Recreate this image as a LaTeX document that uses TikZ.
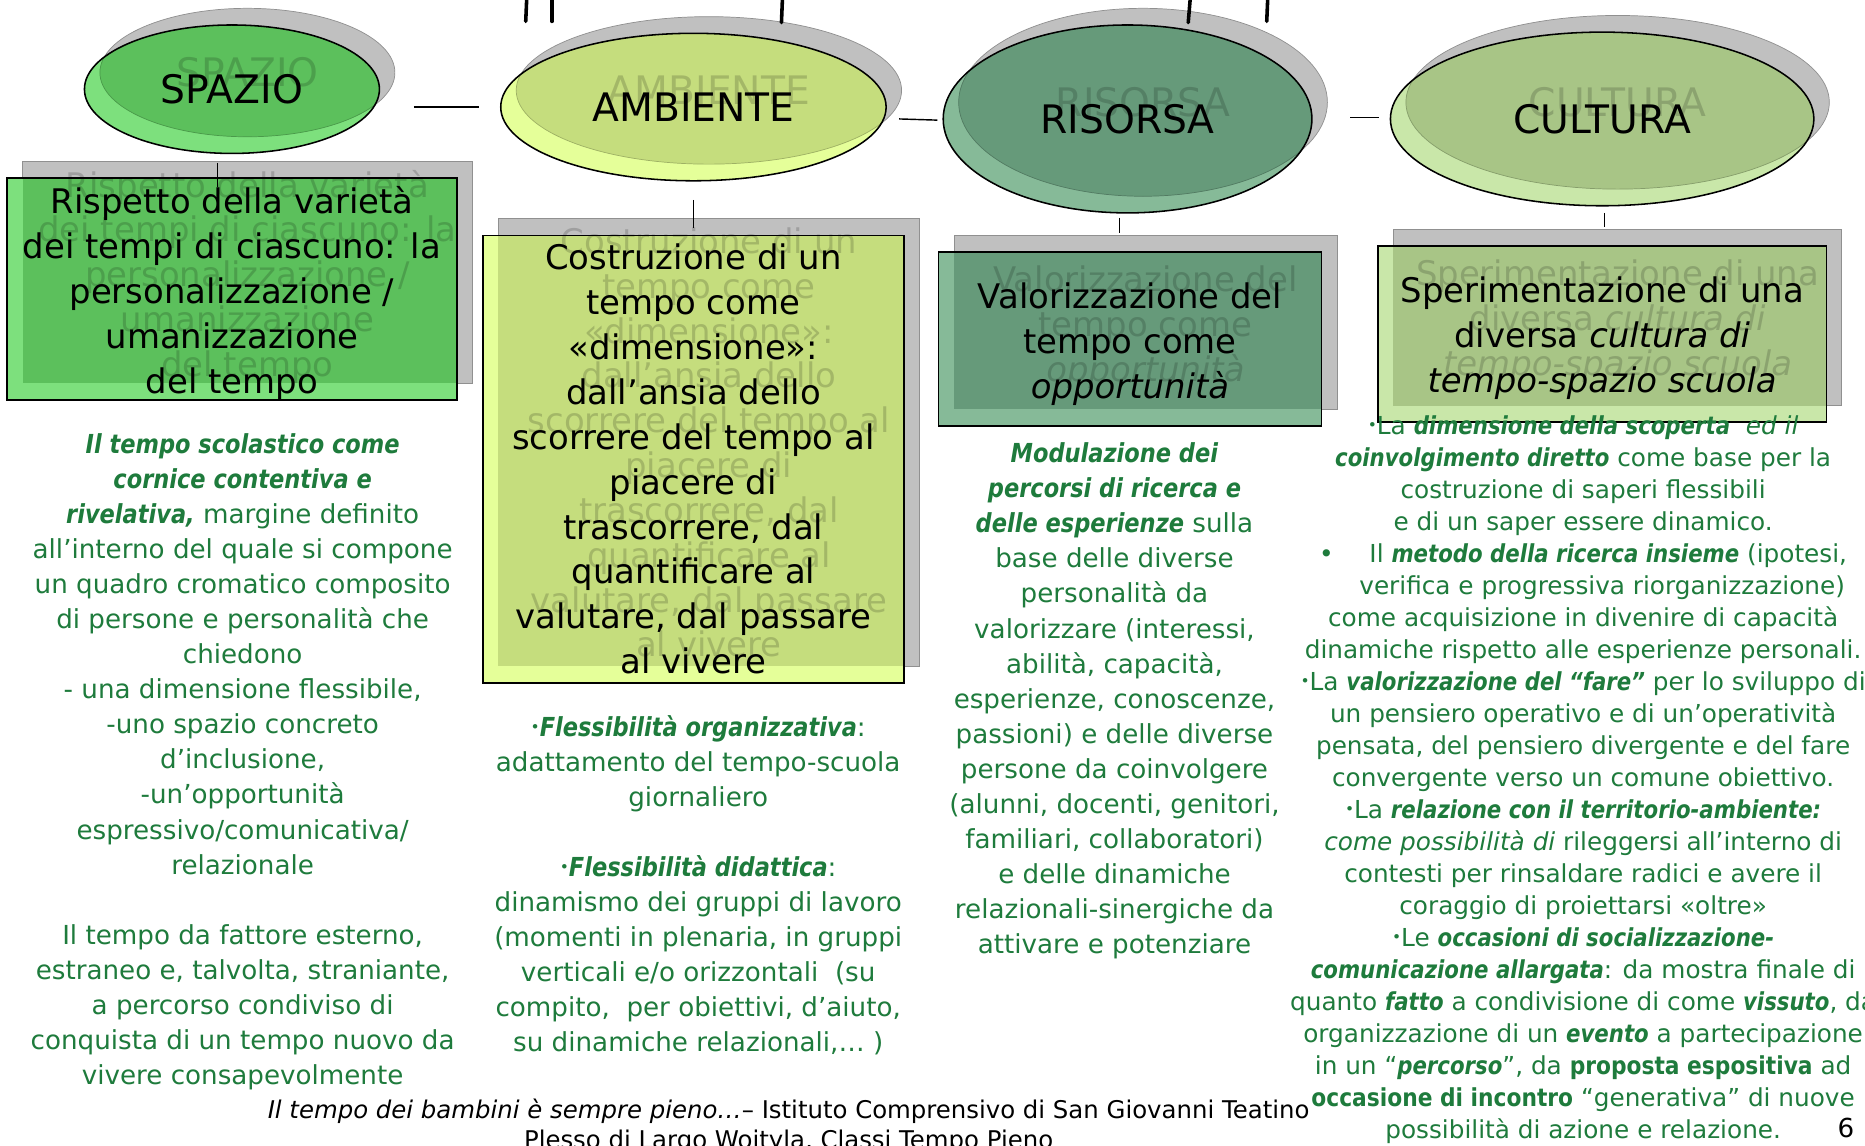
\documentclass[tikz,border=0pt]{standalone}
\usepackage{fontspec}
\setmainfont{DejaVu Sans}[ItalicFont={DejaVu Sans Oblique},BoldItalicFont={DejaVu Sans Bold Oblique},
  BoldFeatures={FakeStretch=0.88},BoldItalicFeatures={FakeStretch=0.86}]
\usetikzlibrary{shapes.geometric,shadows}

\definecolor{spazioLight}{HTML}{7DE07D}
\definecolor{spazioDark}{HTML}{5CC05C}
\definecolor{ambienteLight}{HTML}{E5FF99}
\definecolor{ambienteDark}{HTML}{C5DD7D}
\definecolor{risorsaLight}{HTML}{86BA98}
\definecolor{risorsaDark}{HTML}{669A7A}
\definecolor{culturaLight}{HTML}{C9E7A9}
\definecolor{culturaDark}{HTML}{A8C586}
\definecolor{shadowgray}{HTML}{C0C0C0}
\definecolor{notegreen}{HTML}{1E7B3C}

\newcommand{\titlefont}{\fontsize{33}{40}\selectfont}
\newcommand{\cardfont}{\fontsize{28.5}{37.7}\selectfont}
\newcommand{\notefont}{\fontsize{22}{29.5}\selectfont}
\newcommand{\sidefont}{\fontsize{20.8}{26.9}\selectfont}
\newcommand{\footfont}{\fontsize{20.5}{25}\selectfont}
\newcommand{\kw}[1]{\textbf{\textit{#1}}}
\newcommand{\dotmark}{{\fontsize{13}{0}\selectfont\raisebox{.25em}{•}}}

% texts of the four cards
\newcommand{\spaziotext}{\rule{0pt}{30pt}Rispetto della varietà\\dei tempi di ciascuno: la\\personalizzazione /\\umanizzazione\\del tempo}
\newcommand{\ambientetext}{Costruzione di un\\tempo come\\«dimensione»:\\dall’ansia dello\\scorrere del tempo al\\piacere di\\trascorrere, dal\\quantificare al\\valutare, dal passare\\al vivere}
\newcommand{\risorsatext}{\rule{0pt}{30pt}Valorizzazione del\\tempo come\\\textit{opportunità}}
\newcommand{\culturatext}{\rule{0pt}{28pt}Sperimentazione di una\\diversa \textit{cultura di}\\\textit{tempo-spazio scuola}}

\tikzset{
  castshadow/.style={drop shadow={shadow xshift=13pt, shadow yshift=14pt, fill=shadowgray, draw=shadowgray!75!black, line width=.6pt, opacity=1}},
  bubble/.style n args={4}{ellipse, castshadow, draw=black, line width=1.3pt, inner sep=0pt, fill=#1,
    minimum width={2*#3}, minimum height={2*#4}, font=\titlefont,
    path picture={\fill[#2, draw=#2!80!black, line width=.6pt] ([xshift=13pt,yshift=14pt]path picture bounding box.center) ellipse [x radius=#3pt, y radius=#4pt];}},
  card/.style 2 args={rectangle, castshadow, draw=black, line width=1.3pt, inner sep=0pt, fill=#1, align=center, font=\cardfont,
    path picture={\fill[#2] ([xshift=13pt,yshift=14pt]path picture bounding box.south west) rectangle ([xshift=13pt,yshift=14pt]path picture bounding box.north east);}},
  ghost/.style={align=center, text opacity=.17},
  note/.style={anchor=north, align=center, text=notegreen, font=\notefont, inner sep=0pt},
  link/.style={line width=1.2pt},
  stub/.style={line width=3pt, line cap=round}
}

\begin{document}
\begin{tikzpicture}[x=1pt, y=-1pt]
  % Frame
  \useasboundingbox (0,0) rectangle (1568,963);
  \fill[white] (0,0) rectangle (1568,963);
  \clip (0,0) rectangle (1568,963);

  % Ellipses
  \node[bubble={spazioLight}{spazioDark}{124}{54}] (spazio) at (195,75) {SPAZIO};
  \node[ghost, font=\titlefont] at ([xshift=13pt,yshift=14pt]spazio.center) {SPAZIO};
  \node[bubble={ambienteLight}{ambienteDark}{162}{62}] (ambiente) at (583,90) {AMBIENTE};
  \node[ghost, font=\titlefont] at ([xshift=13pt,yshift=14pt]ambiente.center) {AMBIENTE};
  \node[bubble={risorsaLight}{risorsaDark}{155}{79}] (risorsa) at (948,100) {RISORSA};
  \node[ghost, font=\titlefont] at ([xshift=13pt,yshift=14pt]risorsa.center) {RISORSA};
  \node[bubble={culturaLight}{culturaDark}{178}{73}] (cultura) at (1347,100) {CULTURA};
  \node[ghost, font=\titlefont] at ([xshift=13pt,yshift=14pt]cultura.center) {CULTURA};

  % Cards
  \node[card={spazioLight}{spazioDark}, minimum width=378, minimum height=185] (spaziobox) at (195,243) {\spaziotext};
  \node[ghost, font=\cardfont] at ([xshift=13pt,yshift=14pt]spaziobox.center) {\spaziotext};
  \node[card={ambienteLight}{ambienteDark}, minimum width=354, minimum height=376] (ambientebox) at (583,386) {\ambientetext};
  \node[ghost, font=\cardfont] at ([xshift=13pt,yshift=14pt]ambientebox.center) {\ambientetext};
  \node[card={risorsaLight}{risorsaDark}, minimum width=322, minimum height=146] (risorsabox) at (950,285) {\risorsatext};
  \node[ghost, font=\cardfont] at ([xshift=13pt,yshift=14pt]risorsabox.center) {\risorsatext};
  \node[card={culturaLight}{culturaDark}, minimum width=377, minimum height=148] (culturabox) at (1347,281) {\culturatext};
  \node[ghost, font=\cardfont] at ([xshift=13pt,yshift=14pt]culturabox.center) {\culturatext};

  % Short connectors
  \coordinate (sa1) at (348,90);   \coordinate (sa2) at (403,90);
  \coordinate (ar1) at (756,100);  \coordinate (ar2) at (788,101);
  \coordinate (rc1) at (1135,99);  \coordinate (rc2) at (1159,99);
  \draw[link] (sa1) -- (sa2);
  \draw[link] (ar1) -- (ar2);
  \draw[link] (rc1) -- (rc2);
  \coordinate (sv1) at (183,137);  \coordinate (sv2) at (183,157);
  \coordinate (av1) at (583,168);  \coordinate (av2) at (583,192);
  \coordinate (rv1) at (941,183);  \coordinate (rv2) at (941,196);
  \coordinate (cv1) at (1349,179); \coordinate (cv2) at (1349,191);
  \draw[link] (sv1) -- (sv2);
  \draw[link] (av1) -- (av2);
  \draw[link] (rv1) -- (rv2);
  \draw[link] (cv1) -- (cv2);

  % Cut-off connectors at the top edge
  \coordinate (t1) at (443,-5);  \coordinate (b1) at (442,18);
  \coordinate (t2) at (464,-5);  \coordinate (b2) at (464,18);
  \coordinate (t3) at (658,-5);  \coordinate (b3) at (657,19);
  \coordinate (t4) at (1001,-5); \coordinate (b4) at (999,19);
  \coordinate (t5) at (1066,-5); \coordinate (b5) at (1065,18);
  \foreach \i in {1,...,5}
    \draw[stub] (t\i) -- (b\i);

  % Notes under the cards
  \node[note] (spazionote) at (204,364) {%
    \kw{Il tempo scolastico come}\\
    \kw{cornice contentiva e}\\
    \kw{rivelativa,} margine definito\\
    all’interno del quale si compone\\
    un quadro cromatico composito\\
    di persone e personalità che\\
    chiedono\\
    - una dimensione flessibile,\\
    -uno spazio concreto\\
    d’inclusione,\\
    -un’opportunità\\
    espressivo/comunicativa/\\
    relazionale\\[29.5pt]
    Il tempo da fattore esterno,\\
    estraneo e, talvolta, straniante,\\
    a percorso condiviso di\\
    conquista di un tempo nuovo da\\
    vivere consapevolmente};
  \node[note] (ambientenote) at (587,601) {%
    \dotmark\kw{Flessibilità organizzativa}:\\
    adattamento del tempo-scuola\\
    giornaliero\\[29.5pt]
    \dotmark\kw{Flessibilità didattica}:\\
    dinamismo dei gruppi di lavoro\\
    (momenti in plenaria, in gruppi\\
    verticali e/o orizzontali\ \ (su\\
    compito,\ \ per obiettivi, d’aiuto,\\
    su dinamiche relazionali,… )};
  \node[note] (risorsanote) at (937,372) {%
    \kw{Modulazione dei}\\
    \kw{percorsi di ricerca e}\\
    \kw{delle esperienze} sulla\\
    base delle diverse\\
    personalità da\\
    valorizzare (interessi,\\
    abilità, capacità,\\
    esperienze, conoscenze,\\
    passioni) e delle diverse\\
    persone da coinvolgere\\
    (alunni, docenti, genitori,\\
    familiari, collaboratori)\\
    e delle dinamiche\\
    relazionali-sinergiche da\\
    attivare e potenziare};
  \node[note, font=\sidefont] (culturanote) at (1331,349) {%
    \dotmark La \kw{dimensione della scoperta}\ \ \textit{ed il}\\
    \kw{coinvolgimento diretto} come base per la\\
    costruzione di saperi flessibili\\
    e di un saper essere dinamico.\\
    •\hspace*{30pt}Il \kw{metodo della ricerca insieme} (ipotesi,\\
    \hspace*{32pt}verifica e progressiva riorganizzazione)\\
    come acquisizione in divenire di capacità\\
    dinamiche rispetto alle esperienze personali.\\
    \dotmark La \kw{valorizzazione del “fare”} per lo sviluppo di\\
    un pensiero operativo e di un’operatività\\
    pensata, del pensiero divergente e del fare\\
    convergente verso un comune obiettivo.\\
    \dotmark La \kw{relazione con il territorio-ambiente:}\\
    \textit{come possibilità di} rileggersi all’interno di\\
    contesti per rinsaldare radici e avere il\\
    coraggio di proiettarsi «oltre»\\
    \dotmark Le \kw{occasioni di socializzazione-}\\
    \kw{comunicazione allargata}: da mostra finale di\\
    quanto \kw{fatto} a condivisione di come \kw{vissuto}, da\\
    organizzazione di un \kw{evento} a partecipazione\\
    in un “\kw{percorso}”, da \textbf{proposta espositiva} ad\\
    \textbf{occasione di incontro} “generativa” di nuove\\
    possibilità di azione e relazione.};

  % Footer
  \node[anchor=north, align=center, font=\footfont, inner sep=0pt] (footer) at (663,924) {%
    \textit{Il tempo dei bambini è sempre pieno…}– Istituto Comprensivo di San Giovanni Teatino\\
    Plesso di Largo Wojtyla, Classi Tempo Pieno};
  \node[font=\notefont] (pagenum) at (1552,948) {6};
\end{tikzpicture}
\end{document}
